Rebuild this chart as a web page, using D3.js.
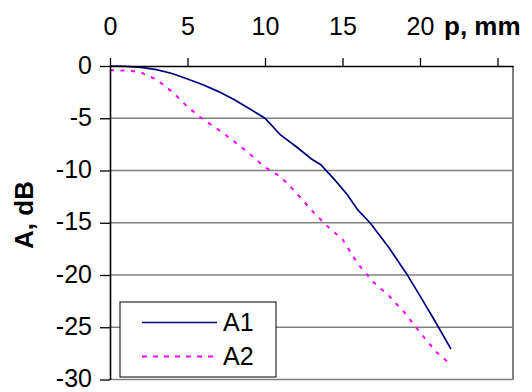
<!DOCTYPE html>
<html>
<head>
<meta charset="utf-8">
<script src="https://cdn.jsdelivr.net/npm/d3@7"></script>
<style>
  html, body { margin: 0; padding: 0; background: #fff; }
  #plot { width: 532px; height: 392px; }
  text { font-family: "Liberation Sans", Arial, sans-serif; fill: #000; }
</style>
</head>
<body>
<div id="plot"></div>
<script>
// distance p, mm
const pA1 = [0, 1, 2, 3, 4, 5, 6, 7, 8, 9, 10, 11, 12, 13, 13.6, 14.5, 15.3, 16, 16.8, 18, 19.1, 20, 21, 22];
const A1 = [0, -0.03, -0.13, -0.35, -0.72, -1.25, -1.8, -2.45, -3.2, -4.1, -5.0, -6.6, -7.7, -8.9, -9.45, -10.9, -12.3, -13.8, -15.05, -17.4, -19.8, -22.0, -24.5, -27.1];

const pA2 = [0, 0.7, 1.35, 2, 3, 4, 5, 6, 7, 8, 9, 10, 11, 12, 13, 14, 15, 16, 17, 18, 19, 20, 21, 22];
const A2 = [-0.4, -0.42, -0.45, -0.62, -1.3, -2.45, -3.9, -5.1, -6.1, -7.2, -8.4, -9.7, -10.6, -12.1, -13.8, -15.3, -16.6, -18.95, -20.7, -22.0, -23.6, -25.5, -27.3, -28.6];

const xTicks = [0, 5, 10, 15, 20, 25];
const yTicks = [0, -5, -10, -15, -20, -25, -30];
const seriesNames = ['A1', 'A2'];

function drawChart() {
  const W = 532, H = 392;
  const left = 110, right = 513, top = 66, bottom = 379.5;

  const svg = d3.select('#plot').append('svg')
    .attr('width', W)
    .attr('height', H);

  const x = d3.scaleLinear().domain([0, 26]).range([left, right]);
  const y = d3.scaleLinear().domain([0, -30]).range([top, bottom]);

  // gridlines
  svg.append('g').attr('class', 'grid')
    .selectAll('line')
    .data(yTicks.filter(d => d !== 0))
    .enter().append('line')
    .attr('x1', left).attr('x2', right)
    .attr('y1', d => y(d)).attr('y2', d => y(d))
    .attr('stroke', '#808080').attr('stroke-width', 1.6);

  // right border (gray)
  svg.append('line')
    .attr('x1', right).attr('x2', right).attr('y1', top).attr('y2', bottom)
    .attr('stroke', '#808080').attr('stroke-width', 2);

  // data lines
  const line = (px) => d3.line().x((d, i) => x(px[i])).y(d => y(d));

  svg.append('path')
    .datum(A2)
    .attr('fill', 'none')
    .attr('stroke', '#ff00ff')
    .attr('stroke-width', 2)
    .attr('stroke-dasharray', '4,6.5')
    .attr('d', line(pA2));

  svg.append('path')
    .datum(A1)
    .attr('fill', 'none')
    .attr('stroke', '#000080')
    .attr('stroke-width', 1.7)
    .attr('d', line(pA1));

  // axes
  const xAxis = d3.axisTop(x)
    .tickValues(xTicks)
    .tickSize(8)
    .tickSizeOuter(0)
    .tickPadding(23)
    .tickFormat(d => d === 25 ? '' : d);

  const gx = svg.append('g').attr('transform', `translate(0,${top})`).call(xAxis);
  gx.select('.domain').attr('stroke', '#000').attr('stroke-width', 1.6);
  gx.selectAll('.tick line').attr('stroke', '#000').attr('stroke-width', 1.3);
  gx.selectAll('text').style('font-size', '25px').attr('fill', '#000');

  const yAxis = d3.axisLeft(y)
    .tickValues(yTicks)
    .tickSize(10)
    .tickSizeOuter(0)
    .tickPadding(8)
    .tickFormat(d => d);

  const gy = svg.append('g').attr('transform', `translate(${left},0)`).call(yAxis);
  gy.select('.domain').attr('stroke', '#000').attr('stroke-width', 1.6);
  gy.selectAll('.tick line').attr('stroke', '#000').attr('stroke-width', 1.3);
  gy.selectAll('text').style('font-size', '25px').attr('fill', '#000').attr('dy', '0.28em');

  // axis titles
  svg.append('text')
    .attr('x', 444).attr('y', 34.5)
    .style('font-size', '26px').style('font-weight', 'bold')
    .text('p, mm');

  svg.append('text')
    .attr('transform', 'translate(33,215) rotate(-90)')
    .attr('text-anchor', 'middle')
    .style('font-size', '26px').style('font-weight', 'bold')
    .text('A, dB');

  // legend
  const lg = svg.append('g').attr('transform', 'translate(120,302)');
  lg.append('rect')
    .attr('width', 156).attr('height', 75)
    .attr('fill', '#fff').attr('stroke', '#000').attr('stroke-width', 1);

  lg.append('line').attr('x1', 22).attr('x2', 97).attr('y1', 20.5).attr('y2', 20.5)
    .attr('stroke', '#000080').attr('stroke-width', 1.7);
  lg.append('text').attr('x', 103).attr('y', 28.5).style('font-size', '25px').text(seriesNames[0]);

  lg.append('line').attr('x1', 22).attr('x2', 97).attr('y1', 54.5).attr('y2', 54.5)
    .attr('stroke', '#ff00ff').attr('stroke-width', 2).attr('stroke-dasharray', '5,6');
  lg.append('text').attr('x', 103).attr('y', 62.5).style('font-size', '25px').text(seriesNames[1]);
}

drawChart();
</script>
</body>
</html>
